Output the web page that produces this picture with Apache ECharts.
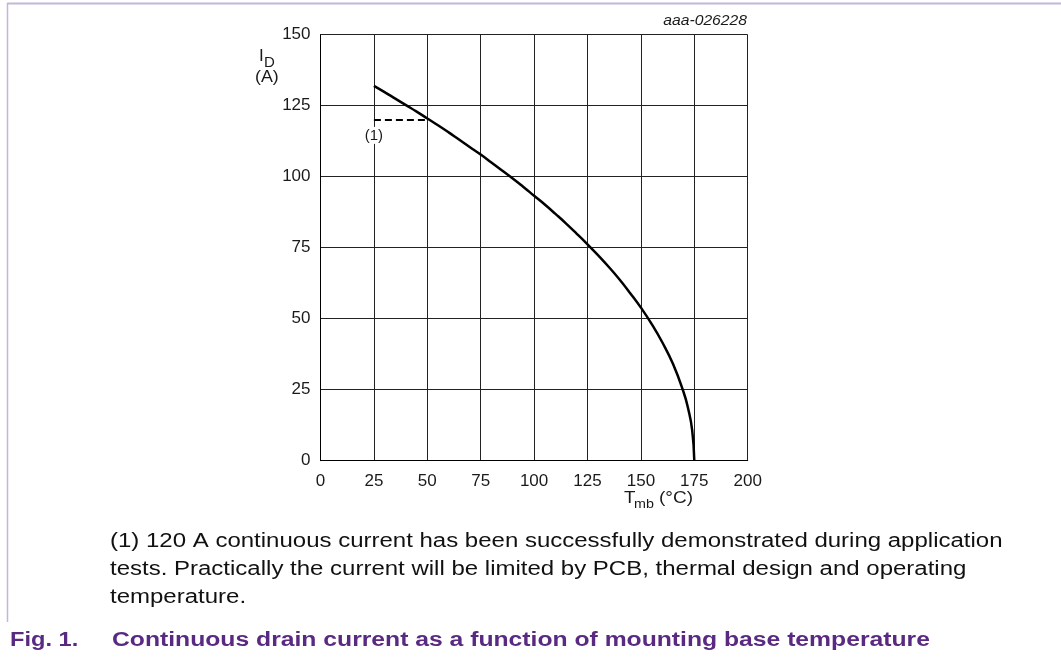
<!DOCTYPE html>
<html>
<head>
<meta charset="utf-8">
<title>Continuous drain current vs mounting base temperature</title>
<script src="https://cdn.jsdelivr.net/npm/echarts@6/dist/echarts.min.js"></script>
<style>
  html, body { margin: 0; padding: 0; background: #fff; }
  #chart { width: 1061px; height: 660px; }
</style>
</head>
<body>
<div id="chart"></div>
<script>
// values
const tempValues = [25, 30, 35, 40, 45, 50, 55, 60, 65, 70, 75, 80, 85, 90, 95, 100,
  105, 110, 115, 120, 125, 130, 135, 140, 145, 150, 155, 160, 165, 170, 172, 174, 175]
const currentValues = [132, 129.8, 127.5, 125.2, 122.9, 120.5, 118.1, 115.6, 113.0, 110.4,
  107.8, 105.0, 102.2, 99.4, 96.4, 93.3, 90.2, 86.9, 83.5, 79.9, 76.2, 72.3, 68.2, 63.8,
  59.0, 53.9, 48.2, 41.7, 34.1, 24.1, 18.7, 10.8, 0]
const limitTemps = [25, 50]
const limitCurrents = [120, 120]
const xTicks = [0, 25, 50, 75, 100, 125, 150, 175, 200]
const yTicks = [0, 25, 50, 75, 100, 125, 150]

const font = '"Liberation Sans", Arial, sans-serif'
const noteLines = [
  '(1) 120 A continuous current has been successfully demonstrated during application',
  'tests. Practically the current will be limited by PCB, thermal design and operating',
  'temperature.'
]

const curve = tempValues.map((t, i) => [t, currentValues[i]])
const limit = limitTemps.map((t, i) => [t, limitCurrents[i]])

const dom = document.getElementById('chart')
const chart = echarts.init(dom, null, { renderer: 'canvas' })

// small helper for the free texts round the plot
function txt (x, y, text, size, opts) {
  opts = opts || {}
  return {
    type: 'text',
    x: x,
    y: y,
    scaleX: opts.sx || 1,
    style: {
      text: text,
      font: (opts.style || '') + ' ' + size + 'px ' + font,
      fill: opts.fill || '#1a1a1a',
      align: opts.align || 'left',
      verticalAlign: opts.va || 'top'
    }
  }
}

const option = {
  backgroundColor: '#fff',
  animation: false,
  grid: {
    left: 320.5,
    top: 34.7,
    right: 313.3,
    bottom: 199.3,
    containLabel: false
  },
  xAxis: {
    type: 'value',
    min: xTicks[0],
    max: xTicks[xTicks.length - 1],
    interval: 25,
    axisLine: { show: true, lineStyle: { color: '#000', width: 1 } },
    axisTick: { show: false },
    axisLabel: { color: '#1a1a1a', fontSize: 17, fontFamily: font, margin: 12 },
    splitLine: { show: true, lineStyle: { color: '#222', width: 1 } }
  },
  yAxis: {
    type: 'value',
    min: yTicks[0],
    max: yTicks[yTicks.length - 1],
    interval: 25,
    axisLine: { show: true, lineStyle: { color: '#000', width: 1 } },
    axisTick: { show: false },
    axisLabel: { color: '#1a1a1a', fontSize: 17, fontFamily: font, margin: 10 },
    splitLine: { show: true, lineStyle: { color: '#222', width: 1 } }
  },
  series: [
    {
      name: 'ID',
      type: 'line',
      data: curve,
      smooth: true,
      showSymbol: false,
      lineStyle: { color: '#000', width: 2.5 },
      z: 3
    },
    {
      name: 'limit',
      type: 'line',
      data: limit,
      showSymbol: false,
      lineStyle: { color: '#000', width: 2, type: [7, 4] },
      z: 3,
      markPoint: {
        symbol: 'rect',
        symbolSize: 0,
        data: [{ coord: limit[0] }],
        label: {
          show: true,
          formatter: '(1)',
          position: 'bottom',
          distance: 7,
          color: '#1a1a1a',
          fontSize: 15,
          fontFamily: font,
          backgroundColor: '#fff',
          padding: [1, 1]
        }
      }
    }
  ],
  graphic: [
    // frame of the figure
    { type: 'line', shape: { x1: 7, y1: 3.5, x2: 1061, y2: 3.5 }, style: { stroke: '#c2b6da', lineWidth: 2 } },
    { type: 'line', shape: { x1: 7.5, y1: 3, x2: 7.5, y2: 622 }, style: { stroke: '#c2b6da', lineWidth: 1.5 } },
    // figure id
    txt(747, 21, 'aaa-026228', 14, { style: 'italic', align: 'right', va: 'middle', sx: 1.12 }),
    // y axis name
    txt(259, 48, 'I', 17),
    txt(264, 55, 'D', 15),
    txt(255, 69, '(A)', 17, { sx: 1.05 }),
    // x axis name
    txt(624, 490, 'T', 17, { sx: 1.1 }),
    txt(634, 498, 'mb', 13, { sx: 1.1 }),
    txt(659, 490, '(°C)', 17, { sx: 1.12 }),
    // note
    txt(110, 541, noteLines[0], 20, { fill: '#111', va: 'middle', sx: 1.2 }),
    txt(110, 569, noteLines[1], 20, { fill: '#111', va: 'middle', sx: 1.2 }),
    txt(110, 597, noteLines[2], 20, { fill: '#111', va: 'middle', sx: 1.2 }),
    // caption
    txt(10, 640, 'Fig. 1.', 20, { style: 'bold', fill: '#5a2a82', va: 'middle', sx: 1.18 }),
    txt(112, 640, 'Continuous drain current as a function of mounting base temperature', 20, { style: 'bold', fill: '#5a2a82', va: 'middle', sx: 1.235 })
  ]
}

chart.setOption(option)
window.addEventListener('resize', () => chart.resize())
</script>
</body>
</html>
